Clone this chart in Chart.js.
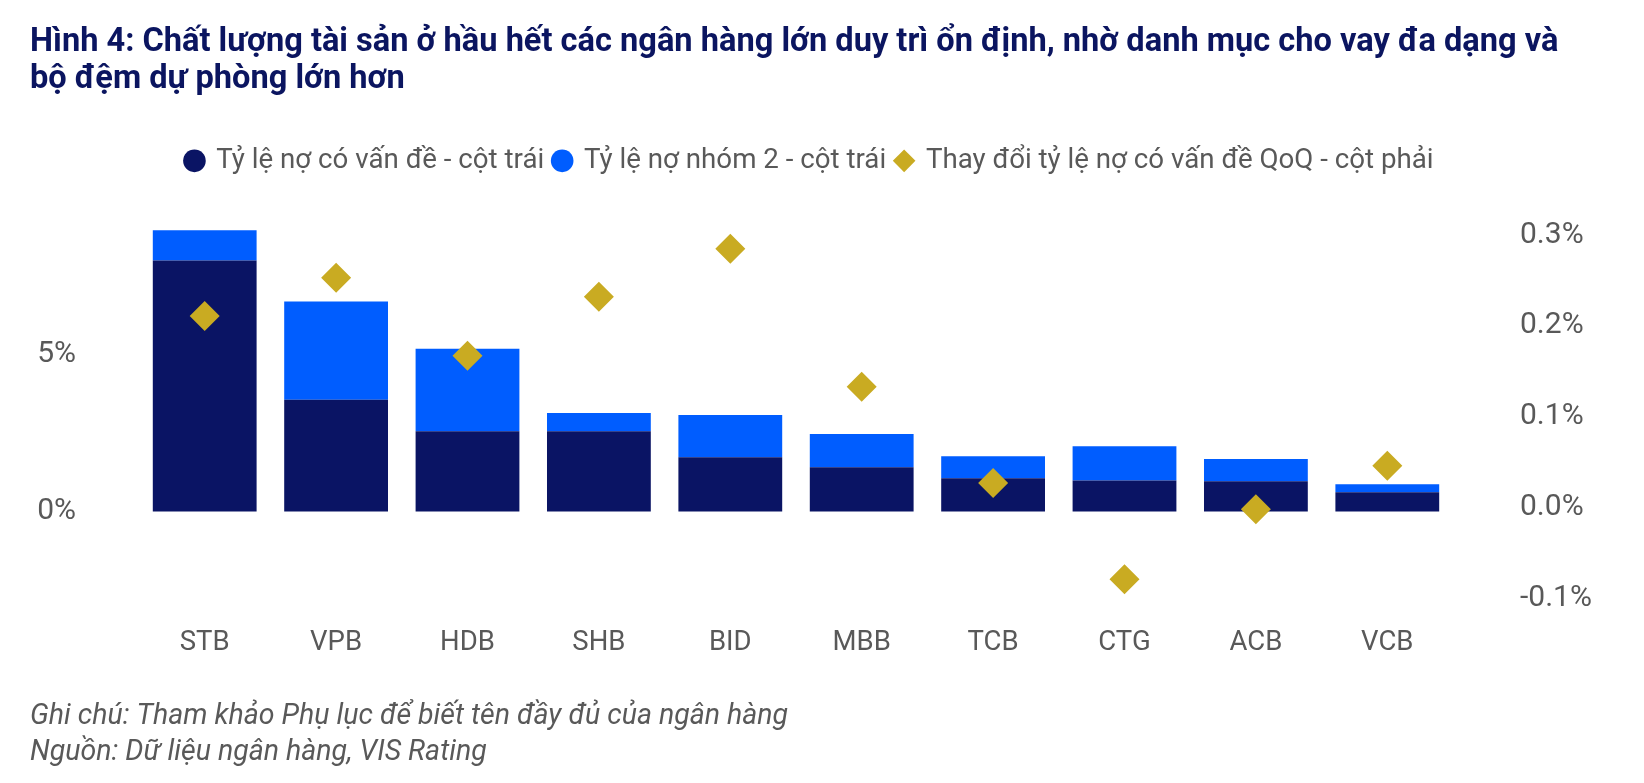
<!DOCTYPE html>
<html lang="vi">
<head>
<meta charset="utf-8">
<title>Hình 4</title>
<script src="https://cdn.jsdelivr.net/npm/chart.js@4.4.1/dist/chart.umd.min.js"></script>
<style>
  html, body { margin: 0; padding: 0; background: #fff; }
  #wrap { width: 1644px; height: 783px; position: relative; }
</style>
</head>
<body>
<div id="wrap"><canvas id="assetChart"></canvas></div>
<script>
const banks = ['STB', 'VPB', 'HDB', 'SHB', 'BID', 'MBB', 'TCB', 'CTG', 'ACB', 'VCB'];
// % , left axis
const problemLoanRatio = [8.01, 3.56, 2.56, 2.56, 1.73, 1.41, 1.06, 0.99, 0.96, 0.61];
const group2Ratio = [0.96, 3.14, 2.63, 0.58, 1.35, 1.06, 0.70, 1.09, 0.71, 0.26];
// % , right axis
const problemLoanQoQ = [0.211, 0.253, 0.167, 0.232, 0.285, 0.133, 0.027, -0.079, -0.002, 0.046];

const leftTicks = [0, 5];
const rightTicks = [-0.1, 0, 0.1, 0.2, 0.3];

const titleLines = [
  'Hình 4: Chất lượng tài sản ở hầu hết các ngân hàng lớn duy trì ổn định, nhờ danh mục cho vay đa dạng và',
  'bộ đệm dự phòng lớn hơn'
];
const noteLines = [
  'Ghi chú: Tham khảo Phụ lục để biết tên đầy đủ của ngân hàng',
  'Nguồn: Dữ liệu ngân hàng, VIS Rating'
];

const NAVY = '#0a1464';
const BLUE = '#005dff';
const GOLD = '#c9ab22';
const GREY = '#595959';

Chart.defaults.font.family = 'Roboto';
Chart.defaults.color = GREY;

// legend sits a bit left of the page centre in the original
const legendShift = {
  id: 'legendShift',
  afterLayout(chart) {
    chart.legend.left -= 27;
    chart.legend.right -= 27;
  }
};

const ctx = document.getElementById('assetChart').getContext('2d');

new Chart(ctx, {
  type: 'bar',
  data: {
    labels: banks,
    datasets: [
      {
        label: 'Tỷ lệ nợ có vấn đề - cột trái',
        data: problemLoanRatio,
        backgroundColor: NAVY,
        stack: 'npl',
        yAxisID: 'y',
        order: 1,
        pointStyle: 'circle'
      },
      {
        label: 'Tỷ lệ nợ nhóm 2 - cột trái',
        data: group2Ratio,
        backgroundColor: BLUE,
        stack: 'npl',
        yAxisID: 'y',
        order: 1,
        pointStyle: 'circle'
      },
      {
        type: 'line',
        label: 'Thay đổi tỷ lệ nợ có vấn đề QoQ - cột phải',
        data: problemLoanQoQ,
        yAxisID: 'y1',
        showLine: false,
        pointStyle: 'rectRot',
        pointRadius: 15,
        pointHoverRadius: 15,
        backgroundColor: GOLD,
        borderColor: GOLD,
        borderWidth: 0,
        order: 0
      }
    ]
  },
  options: {
    responsive: true,
    maintainAspectRatio: false,
    animation: false,
    layout: { padding: { left: 30, right: 0, top: 0, bottom: 0 } },
    datasets: {
      bar: { categoryPercentage: 1, barPercentage: 0.79 }
    },
    plugins: {
      title: {
        display: true,
        text: titleLines,
        align: 'start',
        color: '#0b1560',
        font: { size: 32.6, weight: 'bold', lineHeight: 1.12 },
        padding: { top: 25, bottom: 39 }
      },
      legend: {
        position: 'top',
        labels: {
          usePointStyle: true,
          boxWidth: 16,
          boxHeight: 16,
          padding: 10,
          color: GREY,
          font: { size: 27.7 },
          sort: (a, b) => a.datasetIndex - b.datasetIndex
        }
      },
      subtitle: {
        display: true,
        position: 'bottom',
        text: noteLines,
        align: 'start',
        color: GREY,
        font: { size: 28.5, style: 'italic', lineHeight: 1.25 },
        padding: { top: 12.5, bottom: 12.5 }
      },
      tooltip: { enabled: false }
    },
    scales: {
      x: {
        stacked: true,
        grid: { display: false, drawTicks: false },
        border: { display: false },
        ticks: { color: GREY, font: { size: 27.5 }, padding: 27 }
      },
      y: {
        position: 'left',
        stacked: true,
        min: -2.819,
        max: 10.425,
        grid: { display: false, drawTicks: false },
        border: { display: false },
        ticks: {
          color: GREY,
          font: { size: 30 },
          padding: 63,
          callback: v => v + '%'
        },
        afterBuildTicks: s => { s.ticks = leftTicks.map(v => ({ value: v })); },
        afterFit: s => { s.width = 109; }
      },
      y1: {
        position: 'right',
        min: -0.1016,
        max: 0.3555,
        grid: { display: false, drawTicks: false },
        border: { display: false },
        ticks: {
          color: GREY,
          font: { size: 30 },
          padding: 67,
          callback: v => v.toFixed(1) + '%'
        },
        afterBuildTicks: s => { s.ticks = rightTicks.map(v => ({ value: v })); },
        afterFit: s => { s.width = 191; }
      }
    }
  },
  plugins: [legendShift]
});
</script>
</body>
</html>
